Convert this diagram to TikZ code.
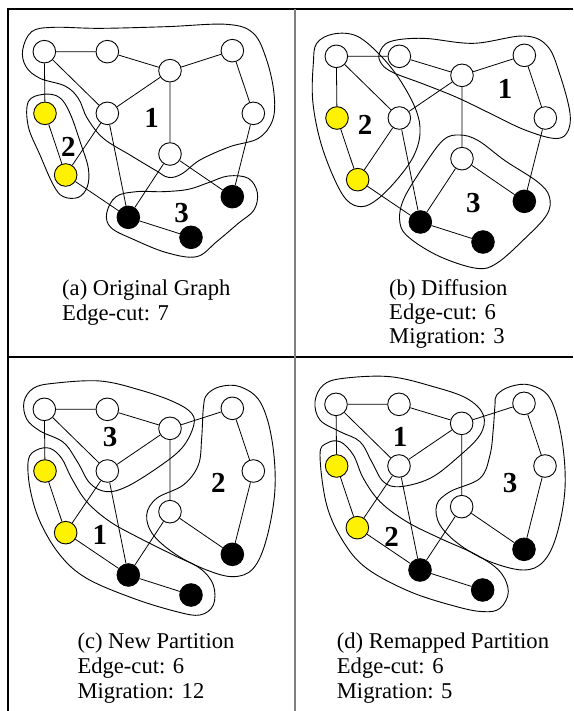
\documentclass[tikz,border=0pt]{standalone}
\usepackage{fontspec}
\setmainfont{Liberation Serif}
\begin{document}
\begin{tikzpicture}[x=1pt,y=-1pt]
\tikzset{
 vert/.style={circle,draw,line width=0.9pt,minimum size=22.6pt,inner sep=0pt},
 wn/.style={vert,fill=white},
 yn/.style={vert,fill=yellow},
 bn/.style={vert,fill=black},
 edge/.style={line width=0.8pt},
 blob/.style={line width=0.9pt},
 num/.style={font=\fontsize{29}{30}\selectfont\bfseries,inner sep=0pt},
 captext/.style={font=\fontsize{22.6}{25}\selectfont,anchor=base west,inner sep=0pt},
 frame/.style={line width=1.1pt},
}
\newcommand{\gpanel}[3]{%
 \node[wn] (#1n1) at (133+#2,155+#3) {};
 \node[wn] (#1n2) at (322+#2,155+#3) {};
 \node[wn] (#1n3) at (697+#2,152+#3) {};
 \node[wn] (#1n4) at (510+#2,212+#3) {};
 \node[yn] (#1n5) at (135+#2,340+#3) {};
 \node[wn] (#1n6) at (322+#2,340+#3) {};
 \node[wn] (#1n7) at (760+#2,340+#3) {};
 \node[wn] (#1n8) at (510+#2,462+#3) {};
 \node[yn] (#1n9) at (197+#2,525+#3) {};
 \node[bn] (#1n10) at (697+#2,590+#3) {};
 \node[bn] (#1n11) at (385+#2,652+#3) {};
 \node[bn] (#1n12) at (573+#2,712+#3) {};
 \draw[edge] (#1n1)--(#1n2) (#1n1)--(#1n5) (#1n1)--(#1n6) (#1n2)--(#1n4)
  (#1n3)--(#1n4) (#1n3)--(#1n7) (#1n4)--(#1n6) (#1n4)--(#1n8)
  (#1n5)--(#1n9) (#1n6)--(#1n9) (#1n6)--(#1n11) (#1n7)--(#1n10)
  (#1n8)--(#1n11) (#1n8)--(#1n10) (#1n9)--(#1n11) (#1n11)--(#1n12);
}
\useasboundingbox (0,0) rectangle (573,711);
% table lines
\coordinate (tl) at (8,9);
\coordinate (tr) at (573,9);
\coordinate (bl) at (8,711);
\coordinate (ml) at (8,357);
\coordinate (mr) at (573,357);
\coordinate (vt) at (294.5,9);
\coordinate (vb) at (294.5,711);
\draw[frame] (tr)--(tl)--(bl);
\draw[frame] (ml)--(mr);
\draw[line width=2pt,gray] (vt)--(vb);

% panel a
\begin{scope}[shift={(0,0)},x=0.33333pt,y=-0.33333pt]
\draw[blob] plot[smooth cycle,tension=0.6] coordinates {(68,150) (95,95) (160,82) (300,85) (500,80) (680,73) (760,100) (800,180) (822,280) (818,360) (775,415) (690,440) (600,480) (545,522) (505,532) (465,510) (390,465) (310,415) (262,355) (235,295) (195,258) (120,235) (78,200)};
\draw[blob] plot[smooth cycle,tension=0.6] coordinates {(130,283) (178,292) (210,340) (242,430) (265,505) (262,560) (235,592) (190,590) (160,555) (120,465) (85,380) (85,305)};
\draw[blob] plot[smooth cycle,tension=0.6] coordinates {(320,640) (348,590) (410,575) (490,575) (565,568) (625,548) (685,528) (745,535) (772,578) (762,630) (715,670) (650,725) (590,770) (500,758) (400,718) (333,683)};
\gpanel{a}{0}{0}
\node[num] (a1) at (455,355) {1};
\node[num] (a2) at (205,440) {2};
\node[num] (a3) at (545,640) {3};
\end{scope}
\node[captext] (ca1) at (62,295.5) {(a) Original Graph};
\node[captext] (ca2) at (62,320) {Edge-cut: 7};

% panel b
\begin{scope}[shift={(290,0)},x=0.33333pt,y=-0.33333pt]
\draw[blob] plot[smooth cycle,tension=0.6] coordinates {(80,130) (130,102) (200,108) (270,165) (330,240) (378,330) (390,400) (370,470) (320,540) (262,598) (215,620) (170,600) (130,530) (90,420) (68,300) (70,190)};
\draw[blob] plot[smooth cycle,tension=0.6] coordinates {(268,160) (300,125) (400,115) (550,130) (700,108) (772,138) (810,225) (840,340) (830,400) (790,415) (700,388) (600,340) (500,292) (400,252) (310,218) (275,192)};
\draw[blob] plot[smooth cycle,tension=0.6] coordinates {(460,420) (510,405) (565,422) (645,482) (742,545) (778,590) (770,645) (700,720) (620,790) (560,805) (450,770) (360,715) (330,670) (340,600) (400,500)};
\gpanel{b}{6}{14}
\node[num] (b1) at (645,268) {1};
\node[num] (b2) at (225,375) {2};
\node[num] (b3) at (550,610) {3};
\end{scope}
\node[captext] (cb1) at (389,295) {(b) Diffusion};
\node[captext] (cb2) at (389,319.5) {Edge-cut: 6};
\node[captext] (cb3) at (389,343.5) {Migration: 3};

% panel c
\begin{scope}[shift={(0,355)},x=0.33333pt,y=-0.33333pt]
\draw[blob] plot[smooth cycle,tension=0.6] coordinates {(72,140) (100,100) (160,85) (300,78) (420,105) (520,140) (575,175) (580,215) (545,280) (470,340) (380,395) (320,410) (270,385) (232,320) (190,262) (120,228) (80,192)};
\draw[blob] plot[smooth cycle,tension=0.6] coordinates {(85,315) (110,285) (150,280) (185,310) (215,370) (260,440) (330,500) (420,550) (520,600) (600,640) (640,690) (640,750) (600,780) (530,770) (400,730) (260,670) (180,600) (120,500) (90,400)};
\draw[blob] plot[smooth cycle,tension=0.6] coordinates {(620,120) (660,95) (720,95) (780,140) (815,250) (825,400) (800,550) (760,640) (700,665) (620,645) (530,600) (460,540) (440,480) (470,430) (550,390) (595,330) (605,250) (610,160)};
\gpanel{c}{0}{8}
\node[num] (c1) at (300,540) {1};
\node[num] (c2) at (655,385) {2};
\node[num] (c3) at (330,245) {3};
\end{scope}
\node[captext] (cc1) at (77.3,648) {(c) New Partition};
\node[captext] (cc2) at (77.3,673) {Edge-cut: 6};
\node[captext] (cc3) at (77.3,698) {Migration: 12};

% panel d
\begin{scope}[shift={(290,355)},x=0.33333pt,y=-0.33333pt]
\draw[blob] plot[smooth cycle,tension=0.6] coordinates {(75,140) (100,90) (160,70) (300,65) (430,95) (530,130) (580,180) (570,240) (500,310) (420,370) (330,395) (280,380) (245,320) (210,260) (150,230) (90,195)};
\draw[blob] plot[smooth cycle,tension=0.6] coordinates {(90,300) (110,265) (150,260) (190,300) (220,370) (270,440) (350,500) (450,550) (560,600) (630,650) (655,710) (630,760) (580,770) (500,755) (360,710) (230,640) (160,560) (110,450)};
\draw[blob] plot[smooth cycle,tension=0.6] coordinates {(620,120) (660,95) (720,90) (780,130) (815,250) (825,400) (800,540) (760,620) (700,645) (600,620) (510,570) (450,510) (440,450) (480,410) (570,370) (600,300) (610,220) (615,150)};
\gpanel{d}{5}{-7}
\node[num] (d1) at (330,245) {1};
\node[num] (d2) at (305,545) {2};
\node[num] (d3) at (660,385) {3};
\end{scope}
\node[captext] (cd1) at (336.7,648) {(d) Remapped Partition};
\node[captext] (cd2) at (336.7,673) {Edge-cut: 6};
\node[captext] (cd3) at (336.7,698) {Migration: 5};
\end{tikzpicture}
\end{document}
